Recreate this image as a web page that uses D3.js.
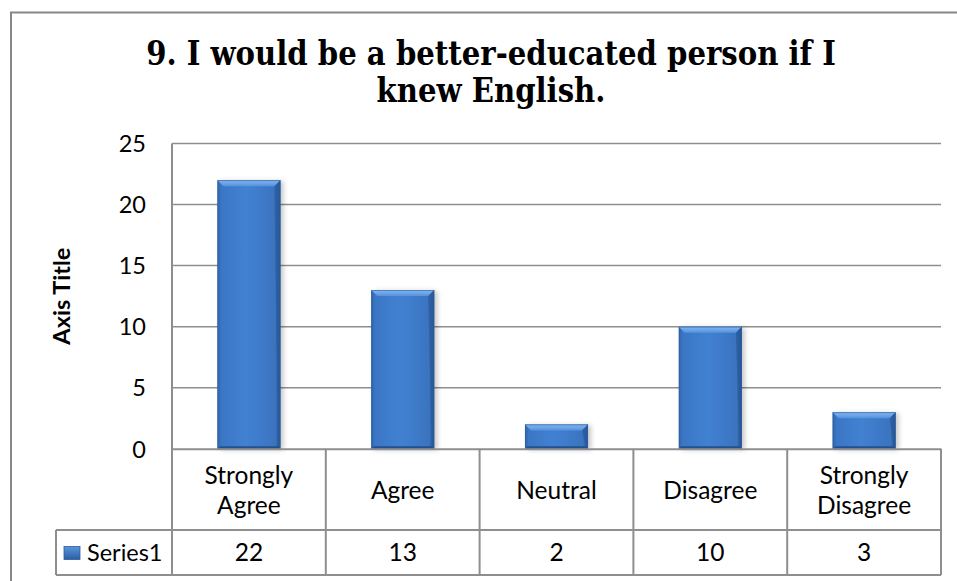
<!DOCTYPE html>
<html>
<head>
<meta charset="utf-8">
<script src="https://cdn.jsdelivr.net/npm/d3@7/dist/d3.min.js"></script>
<style>
  html, body { margin: 0; padding: 0; background: #fff; }
  svg { display: block; }
</style>
</head>
<body>
<svg id="chart" width="957" height="581"></svg>
<script>
// ---- data ----
const titleLines = ["9. I would be a better-educated person if I", "knew English."];
const categories = [["Strongly", "Agree"], ["Agree"], ["Neutral"], ["Disagree"], ["Strongly", "Disagree"]];
const values = [22, 13, 2, 10, 3];
const seriesName = "Series1";
const yTicks = [0, 5, 10, 15, 20, 25];
const yAxisTitle = "Axis Title";

// ---- layout ----
const W = 957, H = 581;
const plotL = 172, plotR = 941, plotT = 143.5, plotB = 448.8;
const tableRow1B = 530, tableRow2B = 575, legendL = 56;
const gridColor = "#8e8e8e";
const font = "Lato, 'Open Sans', sans-serif";
const tableFs = 24.5;

const svg = d3.select("#chart");
const defs = svg.append("defs");

// bar gradients
const g1 = defs.append("linearGradient").attr("id", "barBody").attr("x1", 0).attr("x2", 1).attr("y1", 0).attr("y2", 0);
g1.append("stop").attr("offset", "0%").attr("stop-color", "#2f63a8");
g1.append("stop").attr("offset", "6%").attr("stop-color", "#3a76c4");
g1.append("stop").attr("offset", "45%").attr("stop-color", "#4281d2");
g1.append("stop").attr("offset", "92%").attr("stop-color", "#3a74c0");
g1.append("stop").attr("offset", "100%").attr("stop-color", "#244f8c");
const g2 = defs.append("linearGradient").attr("id", "barTop").attr("x1", 0).attr("x2", 0).attr("y1", 0).attr("y2", 1);
g2.append("stop").attr("offset", "0%").attr("stop-color", "#86b8f0");
g2.append("stop").attr("offset", "100%").attr("stop-color", "#5592de");
const g3 = defs.append("linearGradient").attr("id", "legKey").attr("x1", 0).attr("x2", 0).attr("y1", 0).attr("y2", 1);
g3.append("stop").attr("offset", "0%").attr("stop-color", "#5a96de");
g3.append("stop").attr("offset", "100%").attr("stop-color", "#2b5ea0");
const filt = defs.append("filter").attr("id", "shadow").attr("x", "-20%").attr("y", "-10%").attr("width", "150%").attr("height", "130%");
filt.append("feDropShadow").attr("dx", 3).attr("dy", 1).attr("stdDeviation", 2.5).attr("flood-color", "#000").attr("flood-opacity", 0.22);

// outer chart border (extends beyond right and bottom)
svg.append("path")
  .attr("d", `M11,${H + 5} L11,12.5 L${W + 5},12.5`)
  .attr("fill", "none").attr("stroke", "#878787").attr("stroke-width", 2);

// title
const titleBase = [65, 102];
const titleSel = svg.append("g").selectAll("text").data(titleLines).enter().append("text")
  .attr("x", 0).attr("y", 0)
  .attr("text-anchor", "middle")
  .attr("font-family", "'Century Schoolbook', 'DejaVu Serif Condensed', 'DejaVu Serif', serif")
  .attr("font-weight", "bold").attr("font-size", 28).attr("fill", "#000")
  .text(d => d);
const w0 = titleSel.node().getComputedTextLength();
const fs = 28 * 690 / w0;
const sy = Math.max(1, 24 / (0.729 * fs));
titleSel.attr("font-size", fs)
  .attr("transform", (d, i) => `translate(491,${titleBase[i]}) scale(1,${sy})`);

// scales
const x = d3.scaleBand().domain(d3.range(values.length)).range([plotL, plotR]).paddingInner(0.59).paddingOuter(0.295);
const xCol = d3.scaleBand().domain(d3.range(values.length)).range([plotL, plotR]).padding(0);
const y = d3.scaleLinear().domain([0, 25]).range([plotB, plotT]);

// gridlines
svg.append("g").selectAll("line").data(yTicks.filter(t => t > 0)).enter().append("line")
  .attr("x1", plotL).attr("x2", plotR)
  .attr("y1", d => y(d)).attr("y2", d => y(d))
  .attr("stroke", gridColor).attr("stroke-width", 1.5);

// y axis labels via d3 axis
const yAxis = d3.axisLeft(y).tickValues(yTicks).tickSize(0).tickPadding(0).tickFormat(d3.format("d"));
const yAxisG = svg.append("g").attr("transform", "translate(146,0)").call(yAxis);
yAxisG.select(".domain").remove();
yAxisG.selectAll("text").attr("font-family", font).attr("font-size", 23.5).attr("fill", "#000").attr("dy", "0.35em");

// y axis title
svg.append("text")
  .attr("transform", `translate(70,${(plotT + plotB) / 2}) rotate(-90)`)
  .attr("text-anchor", "middle")
  .attr("font-family", font).attr("font-weight", "bold").attr("font-size", 23.5)
  .attr("fill", "#000").text(yAxisTitle);

// bars
const bars = svg.append("g").selectAll("g.bar").data(values).enter().append("g").attr("class", "bar");
bars.append("rect")
  .attr("x", (d, i) => x(i)).attr("y", d => y(d))
  .attr("width", x.bandwidth()).attr("height", d => y(0) - y(d))
  .attr("fill", "url(#barBody)").attr("filter", "url(#shadow)");
const bv = 6;
// top bevel
bars.append("path")
  .attr("d", (d, i) => {
    const x0 = x(i), x1 = x(i) + x.bandwidth(), y0 = y(d);
    const b = Math.min(bv, (y(0) - y(d)) / 3);
    return `M${x0},${y0} L${x1},${y0} L${x1 - b},${y0 + b} L${x0 + b},${y0 + b} Z`;
  })
  .attr("fill", "url(#barTop)");
// right bevel darker
bars.append("path")
  .attr("d", (d, i) => {
    const x1 = x(i) + x.bandwidth(), y0 = y(d), yb = y(0);
    const b = Math.min(bv, (yb - y0) / 3);
    return `M${x1},${y0} L${x1},${yb} L${x1 - 2.5},${yb - 2.5} L${x1 - b},${y0 + b} Z`;
  })
  .attr("fill", "#2a5a98").attr("opacity", 0.7);
// bottom bevel
bars.append("path")
  .attr("d", (d, i) => {
    const x0 = x(i), x1 = x(i) + x.bandwidth(), yb = y(0);
    return `M${x0},${yb} L${x1},${yb} L${x1 - 2.5},${yb - 2.5} L${x0 + 2.5},${yb - 2.5} Z`;
  })
  .attr("fill", "#23508c");
// outline
bars.append("rect")
  .attr("x", (d, i) => x(i) + 0.5).attr("y", d => y(d) + 0.5)
  .attr("width", x.bandwidth() - 1).attr("height", d => y(0) - y(d) - 1)
  .attr("fill", "none").attr("stroke", "#2c5d9e").attr("stroke-width", 1).attr("opacity", 0.6);

// data table lines
const tbl = svg.append("g").attr("stroke", gridColor).attr("stroke-width", 2).attr("fill", "none");
tbl.append("line").attr("x1", plotL).attr("x2", plotR).attr("y1", plotB + 0.5).attr("y2", plotB + 0.5);
tbl.append("line").attr("x1", plotL).attr("x2", plotL).attr("y1", plotT).attr("y2", tableRow2B);
const colEdges = d3.range(values.length).map(i => xCol(i) + xCol.bandwidth());
tbl.selectAll("line.col").data(colEdges).enter().append("line").attr("class", "col")
  .attr("x1", d => d).attr("x2", d => d).attr("y1", plotB).attr("y2", tableRow2B);
tbl.append("line").attr("x1", legendL).attr("x2", plotR).attr("y1", tableRow1B).attr("y2", tableRow1B);
tbl.append("line").attr("x1", legendL).attr("x2", plotR).attr("y1", tableRow2B).attr("y2", tableRow2B);
tbl.append("line").attr("x1", legendL).attr("x2", legendL).attr("y1", tableRow1B).attr("y2", tableRow2B);

// category labels
const row1C = (plotB + tableRow1B) / 2 + 1;
const catG = svg.append("g").selectAll("text").data(categories).enter().append("text")
  .attr("x", (d, i) => xCol(i) + xCol.bandwidth() / 2)
  .attr("text-anchor", "middle")
  .attr("font-family", font).attr("font-size", tableFs).attr("fill", "#000");
catG.each(function(d) {
  const t = d3.select(this);
  const lh = 30;
  d.forEach((line, k) => {
    t.append("tspan").attr("x", t.attr("x"))
      .attr("y", row1C + (k - (d.length - 1) / 2) * lh)
      .attr("dy", "0.35em").text(line);
  });
});

// values row
const row2C = (tableRow1B + tableRow2B) / 2;
svg.append("g").selectAll("text").data(values).enter().append("text")
  .attr("x", (d, i) => xCol(i) + xCol.bandwidth() / 2)
  .attr("y", row2C).attr("dy", "0.35em")
  .attr("text-anchor", "middle")
  .attr("font-family", font).attr("font-size", tableFs).attr("fill", "#000")
  .text(d => d);

// legend key + series name
svg.append("rect").attr("x", 64).attr("y", row2C - 6).attr("width", 16).attr("height", 13)
  .attr("fill", "url(#legKey)").attr("stroke", "#2c5d9e").attr("stroke-width", 0.8);
svg.append("text").attr("x", 87).attr("y", row2C).attr("dy", "0.35em")
  .attr("font-family", font).attr("font-size", 23.5).attr("fill", "#000").text(seriesName);
</script>
</body>
</html>
